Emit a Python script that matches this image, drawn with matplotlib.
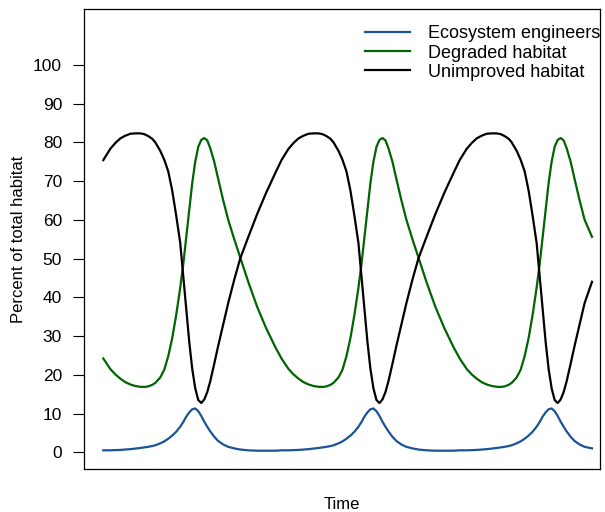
import numpy as np
import matplotlib
matplotlib.use("Agg")
import matplotlib.pyplot as plt

plt.rcParams['font.family'] = ['Liberation Sans', 'DejaVu Sans']

# time (arbitrary units), three cycles of the limit cycle, last one cut short
time = [0.0, 0.7, 1.2, 1.7, 2.2, 2.7, 3.2, 3.7, 4.1, 4.5, 4.9, 5.2, 5.7, 6.1, 6.5, 6.9, 7.3, 7.7,
        8.0, 8.3, 8.6, 8.9, 9.2, 9.5, 9.8, 10.1, 10.4, 10.7, 11.1, 11.5, 12.0, 12.5, 13.1, 13.7,
        14.5, 15.4, 16.3, 17.2,
        17.83, 18.53, 19.03, 19.53, 20.03, 20.53, 21.03, 21.53, 21.93, 22.33, 22.73, 23.03, 23.53,
        23.93, 24.33, 24.73, 25.13, 25.53, 25.83, 26.13, 26.43, 26.73, 27.03, 27.33, 27.63, 27.93,
        28.23, 28.53, 28.93, 29.33, 29.83, 30.33, 30.93, 31.53, 32.33, 33.23, 34.13, 35.03,
        35.66, 36.36, 36.86, 37.36, 37.86, 38.36, 38.86, 39.36, 39.76, 40.16, 40.56, 40.86, 41.36,
        41.76, 42.16, 42.56, 42.96, 43.36, 43.66, 43.96, 44.26, 44.56, 44.86, 45.16, 45.46, 45.76,
        46.06, 46.36, 46.76, 47.16, 47.66, 48.16, 48.9]

engineers = [0.5, 0.5, 0.55, 0.6, 0.7, 0.8, 0.95, 1.1, 1.25, 1.4, 1.6, 1.8, 2.3, 2.8, 3.5, 4.3, 5.3,
             6.6, 7.8, 9.2, 10.3, 11.1, 11.3, 10.6, 9.4, 7.9, 6.6, 5.4, 4.0, 2.9, 2.0, 1.4, 1.0, 0.7,
             0.5, 0.4, 0.4, 0.4,
             0.5, 0.5, 0.55, 0.6, 0.7, 0.8, 0.95, 1.1, 1.25, 1.4, 1.6, 1.8, 2.3, 2.8, 3.5, 4.3, 5.3,
             6.6, 7.8, 9.2, 10.3, 11.1, 11.3, 10.6, 9.4, 7.9, 6.6, 5.4, 4.0, 2.9, 2.0, 1.4, 1.0, 0.7,
             0.5, 0.4, 0.4, 0.4,
             0.5, 0.5, 0.55, 0.6, 0.7, 0.8, 0.95, 1.1, 1.25, 1.4, 1.6, 1.8, 2.3, 2.8, 3.5, 4.3, 5.3,
             6.6, 7.8, 9.2, 10.3, 11.1, 11.3, 10.6, 9.4, 7.9, 6.6, 5.4, 4.0, 2.9, 2.0, 1.4, 1.0]

degraded = [24.2, 21.5, 20.1, 19.0, 18.1, 17.5, 17.1, 16.9, 16.85, 17.0, 17.4, 17.9, 19.3, 21.3,
            24.8, 29.5, 35.5, 42.5, 48.5, 55.5, 62.5, 69.5, 75.0, 78.8, 80.6, 81.1, 80.5, 78.5,
            75.0, 70.5, 65.0, 60.0, 55.0, 50.3, 44.0, 37.5, 32.0, 27.2,
            24.2, 21.5, 20.1, 19.0, 18.1, 17.5, 17.1, 16.9, 16.85, 17.0, 17.4, 17.9, 19.3, 21.3,
            24.8, 29.5, 35.5, 42.5, 48.5, 55.5, 62.5, 69.5, 75.0, 78.8, 80.6, 81.1, 80.5, 78.5,
            75.0, 70.5, 65.0, 60.0, 55.0, 50.3, 44.0, 37.5, 32.0, 27.2,
            24.2, 21.5, 20.1, 19.0, 18.1, 17.5, 17.1, 16.9, 16.85, 17.0, 17.4, 17.9, 19.3, 21.3,
            24.8, 29.5, 35.5, 42.5, 48.5, 55.5, 62.5, 69.5, 75.0, 78.8, 80.6, 81.1, 80.5, 78.5,
            75.0, 70.5, 65.0, 60.0, 55.6]

unimproved = [75.4, 78.3, 79.8, 81.0, 81.7, 82.2, 82.3, 82.3, 82.1, 81.6, 80.9, 80.0, 77.8, 75.5,
              72.5, 67.5, 61.0, 54.0, 45.5, 37.0, 28.5, 21.5, 16.5, 13.5, 12.7, 13.6, 15.5, 18.3,
              22.8, 27.5, 33.0, 38.5, 44.5, 50.0, 55.5, 61.5, 67.0, 72.0,
              75.4, 78.3, 79.8, 81.0, 81.7, 82.2, 82.3, 82.3, 82.1, 81.6, 80.9, 80.0, 77.8, 75.5,
              72.5, 67.5, 61.0, 54.0, 45.5, 37.0, 28.5, 21.5, 16.5, 13.5, 12.7, 13.6, 15.5, 18.3,
              22.8, 27.5, 33.0, 38.5, 44.5, 50.0, 55.5, 61.5, 67.0, 72.0,
              75.4, 78.3, 79.8, 81.0, 81.7, 82.2, 82.3, 82.3, 82.1, 81.6, 80.9, 80.0, 77.8, 75.5,
              72.5, 67.5, 61.0, 54.0, 45.5, 37.0, 28.5, 21.5, 16.5, 13.5, 12.7, 13.6, 15.5, 18.3,
              22.8, 27.5, 33.0, 38.5, 44.0]

labels = ["Ecosystem engineers", "Degraded habitat", "Unimproved habitat"]
colors = ["#1a5494", "#006400", "black"]
yticks = list(range(0, 101, 10))

fig = plt.figure(figsize=(6.05, 5.12), dpi=100)
ax = fig.add_axes([84.3 / 605, 1 - 469.3 / 512, (600 - 84.3) / 605, (469.3 - 9) / 512])

for series, lab, col in zip([engineers, degraded, unimproved], labels, colors):
    ax.plot(time, series, color=col, lw=1.6, label=lab)

ax.set_xlim(-1.9, 49.7)
ax.set_ylim(-4.4, 114.4)
ax.set_yticks(yticks)
ax.set_xticks([])
ax.tick_params(axis='y', length=8, width=0.8, pad=8, labelsize=12.5)
for s in ax.spines.values():
    s.set_linewidth(0.9)

ax.set_ylabel("Percent of total habitat", fontsize=12, labelpad=5)
ax.set_xlabel("Time", fontsize=12, labelpad=20)

ax.legend(loc='upper right', bbox_to_anchor=(1.021, 0.988), frameon=False, fontsize=13,
          handlelength=2.5, handletextpad=1.0, labelspacing=0.12, borderaxespad=0.2)

fig.savefig("out.png", dpi=100)
